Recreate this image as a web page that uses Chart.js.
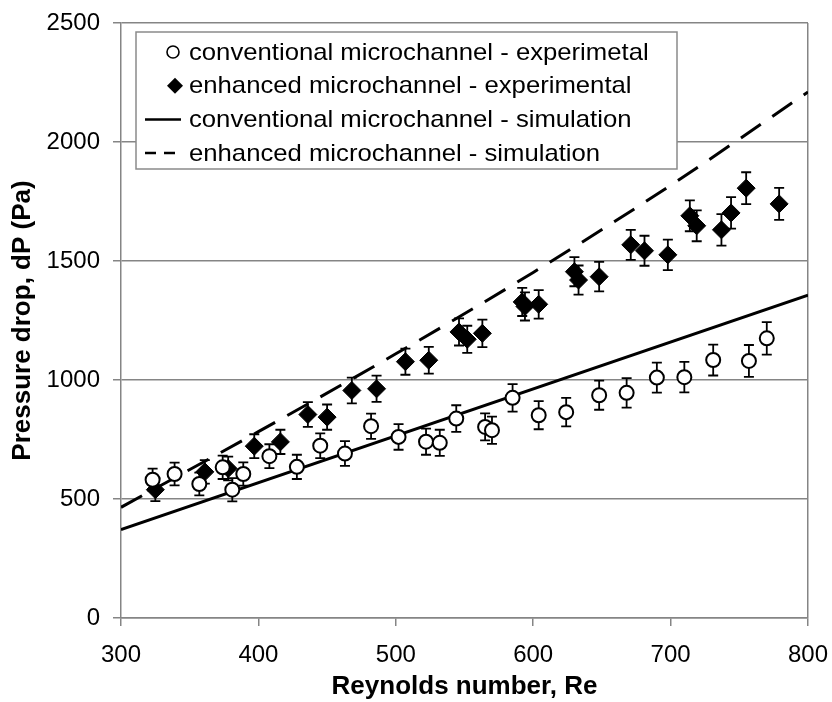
<!DOCTYPE html>
<html>
<head>
<meta charset="utf-8">
<script src="https://cdn.jsdelivr.net/npm/chart.js@4.4.1/dist/chart.umd.min.js"></script>
<style>
  body { margin: 0; background: #fff; }
</style>
</head>
<body>
<canvas id="dpChart" width="832" height="702"></canvas>
<script>
const FONT = "'Liberation Sans', Arial, sans-serif";

const seriesNames = [
  'conventional microchannel - experimetal',
  'enhanced microchannel - experimental',
  'conventional microchannel - simulation',
  'enhanced microchannel - simulation'
];

// conventional microchannel, measured
const convRe  = [323, 339, 357, 374, 381, 389, 408, 428, 445, 463, 482, 502, 522, 532,
                 544, 565, 570, 585, 604, 624, 648, 668, 690, 710, 731, 757, 770];
const convDp  = [581, 605, 563, 633, 539, 605, 680, 635, 724, 691, 806, 761, 741, 736,
                 838, 803, 789, 925, 852, 865, 936, 946, 1010, 1012, 1084, 1080, 1175];
const convErr = [47, 48, 48, 49, 49, 49, 50, 51, 52, 52, 53, 54, 55, 55,
                 56, 57, 57, 58, 59, 60, 61, 62, 63, 64, 65, 67, 68];

// enhanced microchannel, measured
const enhRe  = [325, 361, 378, 397, 416, 436, 450, 468, 486, 507, 524, 546, 552, 563, 592,
                594, 604, 630, 633, 648, 671, 681, 698, 714, 719, 737, 744, 755, 779];
const enhDp  = [539, 614, 628, 722, 740, 855, 844, 956, 963, 1077, 1083, 1202, 1171, 1196, 1328,
                1309, 1318, 1455, 1420, 1434, 1568, 1543, 1526, 1690, 1648, 1631, 1702, 1806, 1740];
const enhErr = [48, 49, 50, 50, 51, 52, 53, 54, 55, 55, 56, 57, 57, 58, 59,
                59, 60, 61, 61, 62, 63, 63, 64, 65, 65, 66, 66, 67, 67];

// simulation curves
const simConvRe = [300, 800];
const simConvDp = [372, 1356];
const simEnhRe  = [300, 400, 500, 600, 700, 800];
const simEnhDp  = [465, 783, 1110, 1452, 1818, 2210];

const xRange = [300, 800];
const yRange = [0, 2500];

const toPoints = (xs, ys) => xs.map((x, i) => ({ x: x, y: ys[i] }));

// vertical error bars with caps, drawn under the markers
const errorBars = {
  id: 'errorBars',
  beforeDatasetsDraw(chart) {
    const ctx = chart.ctx;
    const yScale = chart.scales.y;
    ctx.save();
    ctx.strokeStyle = '#000';
    ctx.lineWidth = 1.8;
    chart.data.datasets.forEach((ds, di) => {
      if (!ds.errors) return;
      chart.getDatasetMeta(di).data.forEach((pt, i) => {
        const v = ds.data[i].y;
        const e = ds.errors[i];
        const top = yScale.getPixelForValue(v + e);
        const bot = yScale.getPixelForValue(v - e);
        ctx.beginPath();
        ctx.moveTo(pt.x, top);
        ctx.lineTo(pt.x, bot);
        ctx.moveTo(pt.x - 5, top);
        ctx.lineTo(pt.x + 5, top);
        ctx.moveTo(pt.x - 5, bot);
        ctx.lineTo(pt.x + 5, bot);
        ctx.stroke();
      });
    });
    ctx.restore();
  }
};

// boxed legend sitting inside the plot, top left
const boxLegend = {
  id: 'boxLegend',
  afterDraw(chart) {
    const ctx = chart.ctx;
    const area = chart.chartArea;
    const left = area.left + 15;
    const top = area.top + 9;
    const w = 541, h = 137;
    ctx.save();
    ctx.fillStyle = '#fff';
    ctx.fillRect(left, top, w, h);
    ctx.strokeStyle = '#8a8a8a';
    ctx.lineWidth = 1.5;
    ctx.strokeRect(left, top, w, h);

    ctx.font = '24px ' + FONT;
    ctx.textBaseline = 'middle';
    ctx.fillStyle = '#000';
    seriesNames.forEach((name, i) => {
      const y = top + 20 + i * 33.7;
      ctx.strokeStyle = '#000';
      if (i === 0) {
        ctx.lineWidth = 1.6;
        ctx.beginPath();
        ctx.arc(left + 37, y, 6, 0, Math.PI * 2);
        ctx.stroke();
      } else if (i === 1) {
        ctx.beginPath();
        ctx.moveTo(left + 39, y - 8);
        ctx.lineTo(left + 47, y);
        ctx.lineTo(left + 39, y + 8);
        ctx.lineTo(left + 31, y);
        ctx.closePath();
        ctx.fill();
      } else {
        ctx.lineWidth = 2.5;
        ctx.setLineDash(i === 3 ? [11, 8] : []);
        ctx.beginPath();
        ctx.moveTo(left + 9, y);
        ctx.lineTo(left + 45, y);
        ctx.stroke();
        ctx.setLineDash([]);
      }
      // the legend lettering runs a little wide
      ctx.save();
      ctx.translate(left + 53, y + 1);
      ctx.scale(1.07, 1);
      ctx.fillText(name, 0, 0);
      ctx.restore();
    });
    ctx.restore();
  }
};

const axisGray = '#858585';

new Chart(document.getElementById('dpChart'), {
  type: 'scatter',
  data: {
    datasets: [
      {
        label: seriesNames[0],
        data: toPoints(convRe, convDp),
        errors: convErr,
        pointStyle: 'circle',
        pointRadius: 7,
        pointBorderWidth: 2,
        pointBackgroundColor: '#fff',
        pointBorderColor: '#000',
        showLine: false,
        order: 1
      },
      {
        label: seriesNames[1],
        data: toPoints(enhRe, enhDp),
        errors: enhErr,
        pointStyle: 'rectRot',
        pointRadius: 9,
        pointBorderWidth: 1,
        pointBackgroundColor: '#000',
        pointBorderColor: '#000',
        showLine: false,
        order: 1
      },
      {
        label: seriesNames[2],
        data: toPoints(simConvRe, simConvDp),
        showLine: true,
        pointRadius: 0,
        borderColor: '#000',
        borderWidth: 3,
        order: 2
      },
      {
        label: seriesNames[3],
        data: toPoints(simEnhRe, simEnhDp),
        showLine: true,
        pointRadius: 0,
        borderColor: '#000',
        borderWidth: 3,
        borderDash: [24, 14],
        cubicInterpolationMode: 'monotone',
        order: 2
      }
    ]
  },
  options: {
    responsive: false,
    animation: false,
    layout: { padding: { left: 0, right: 24, top: 23, bottom: 0 } },
    plugins: {
      legend: { display: false },
      tooltip: { enabled: false }
    },
    scales: {
      x: {
        type: 'linear',
        min: xRange[0],
        max: xRange[1],
        afterFit: (scale) => {
          scale.height = 84;
          scale.paddingLeft = 0;
          scale.paddingRight = 0;
        },
        ticks: {
          stepSize: 100,
          color: '#000',
          padding: 15,
          font: { family: FONT, size: 24 },
          callback: (v) => String(v)
        },
        grid: {
          // only the right frame edge is drawn across the plot
          color: (c) => (c.tick && c.tick.value === xRange[1]) ? axisGray : 'rgba(0,0,0,0)',
          tickColor: axisGray,
          tickLength: 8,
          lineWidth: 1.5
        },
        border: { color: axisGray, width: 1.5 },
        title: {
          display: true,
          text: 'Reynolds number, Re',
          color: '#000',
          font: { family: FONT, size: 26, weight: 'bold' },
          padding: { top: 0, bottom: 0 }
        }
      },
      y: {
        min: yRange[0],
        max: yRange[1],
        afterFit: (scale) => {
          scale.width = 121;
          scale.paddingTop = 0;
          scale.paddingBottom = 0;
        },
        ticks: {
          stepSize: 500,
          color: '#000',
          padding: 13,
          font: { family: FONT, size: 24 },
          callback: (v) => String(v)
        },
        grid: {
          color: axisGray,
          tickColor: axisGray,
          tickLength: 8,
          lineWidth: 1.5
        },
        border: { color: axisGray, width: 1.5 },
        title: {
          display: true,
          text: 'Pressure drop, dP (Pa)',
          color: '#000',
          font: { family: FONT, size: 26, weight: 'bold' },
          padding: { top: 7, bottom: 0 }
        }
      }
    }
  },
  plugins: [errorBars, boxLegend]
});
</script>
</body>
</html>
